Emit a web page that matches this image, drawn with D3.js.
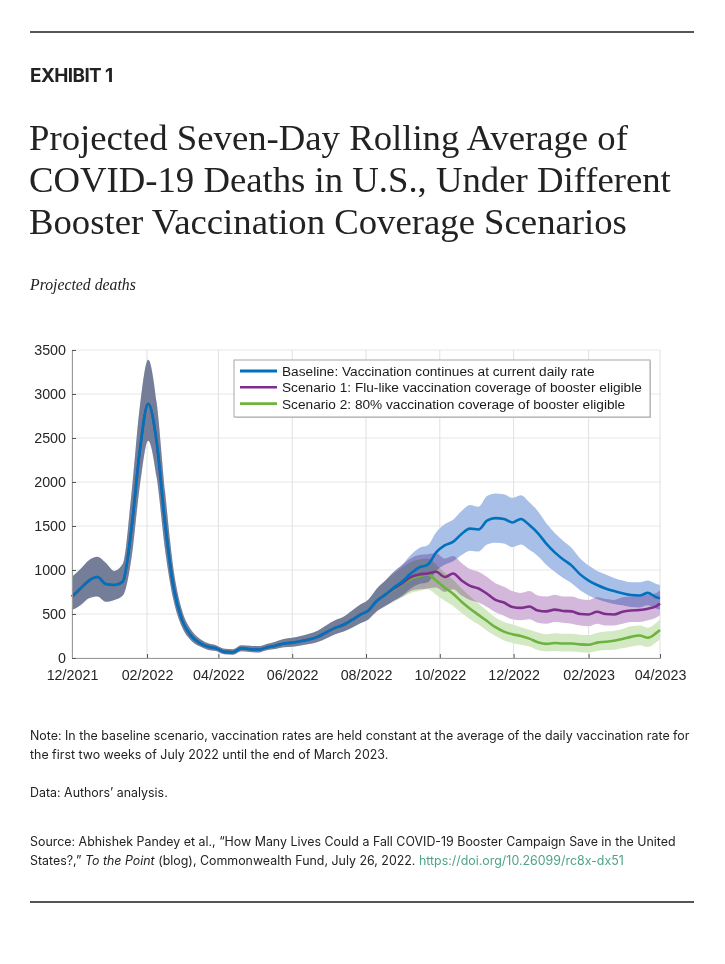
<!DOCTYPE html>
<html>
<head>
<meta charset="utf-8">
<script src="https://cdn.jsdelivr.net/npm/d3@7"></script>
<style>
  body { margin: 0; background: #fff; }
  svg { display: block; }
</style>
</head>
<body>
<svg width="725" height="964"></svg>
<script>
// weekly sample dates
const dates = [
  "2021-12-01", "2021-12-08", "2021-12-15", "2021-12-22", "2021-12-29",
  "2022-01-05", "2022-01-12", "2022-01-19", "2022-01-26",
  "2022-02-02", "2022-02-09", "2022-02-16", "2022-02-23",
  "2022-03-02", "2022-03-09", "2022-03-16", "2022-03-23", "2022-03-30",
  "2022-04-06", "2022-04-13", "2022-04-20", "2022-04-27",
  "2022-05-04", "2022-05-11", "2022-05-18", "2022-05-25",
  "2022-06-01", "2022-06-08", "2022-06-15", "2022-06-22", "2022-06-29",
  "2022-07-06", "2022-07-13", "2022-07-20", "2022-07-27",
  "2022-08-03", "2022-08-10", "2022-08-17",
  // scenarios split from here
  "2022-08-24", "2022-08-31",
  "2022-09-07", "2022-09-14", "2022-09-21", "2022-09-28",
  "2022-10-05", "2022-10-12", "2022-10-19", "2022-10-26",
  "2022-11-02", "2022-11-09", "2022-11-16", "2022-11-23", "2022-11-30",
  "2022-12-07", "2022-12-14", "2022-12-21", "2022-12-28",
  "2023-01-04", "2023-01-11", "2023-01-18", "2023-01-25",
  "2023-02-01", "2023-02-08", "2023-02-15", "2023-02-22",
  "2023-03-01", "2023-03-08", "2023-03-15", "2023-03-22", "2023-03-29",
  "2023-04-01"
];

// common part (all three scenarios identical until mid-August 2022)
const sharedMean = [697, 790, 880, 920, 840, 830, 870, 1450, 2350, 2890, 2450, 1520, 800,
  430, 260, 175, 130, 110, 70, 65, 110, 100, 95, 120, 140, 165, 175, 190, 210, 240, 290,
  340, 375, 430, 490, 540, 650, 720];
const sharedHigh = [924, 1010, 1110, 1150, 1080, 990, 1070, 1850, 2850, 3390, 2900, 1880, 1000,
  540, 330, 225, 170, 145, 105, 100, 145, 140, 135, 160, 185, 215, 230, 250, 275, 310, 370,
  425, 465, 535, 605, 665, 790, 880];
const sharedLow = [545, 600, 680, 700, 640, 660, 710, 1120, 1950, 2470, 2050, 1220, 650,
  350, 205, 135, 95, 80, 42, 38, 78, 68, 62, 88, 102, 122, 128, 142, 158, 182, 222,
  268, 298, 342, 392, 438, 530, 590];

// baseline after the split
const baselineMean = [800, 870, 960, 1030, 1060, 1200, 1280, 1320, 1410, 1470, 1460, 1560,
  1590, 1580, 1540, 1580, 1510, 1420, 1300, 1200, 1120, 1050, 950, 880, 830, 790, 760, 735,
  715, 710, 740, 690, 678];
const baselineHigh = [980, 1060, 1170, 1250, 1280, 1430, 1520, 1570, 1670, 1740, 1720, 1840,
  1870, 1860, 1820, 1850, 1770, 1670, 1530, 1420, 1330, 1250, 1130, 1050, 990, 950, 910, 880,
  860, 860, 880, 840, 830];
const baselineLow = [650, 710, 790, 840, 860, 990, 1060, 1100, 1170, 1220, 1210, 1290,
  1310, 1300, 1260, 1290, 1230, 1160, 1060, 980, 910, 850, 770, 710, 670, 640, 615, 600,
  580, 575, 600, 560, 550];

// scenario 1 (flu-like coverage)
const fluMean = [790, 850, 920, 950, 960, 980, 920, 960, 880, 820, 790, 730, 660, 630, 580,
  570, 585, 540, 530, 550, 535, 530, 500, 495, 525, 500, 495, 525, 540, 545, 560, 590, 620];
const fluHigh = [980, 1060, 1130, 1170, 1180, 1190, 1130, 1160, 1080, 1010, 980, 920, 850,
  810, 760, 740, 760, 710, 700, 720, 700, 700, 670, 660, 690, 670, 660, 690, 700, 710, 720,
  740, 770];
const fluLow = [650, 700, 760, 780, 790, 800, 750, 780, 710, 660, 630, 580, 520, 480, 440,
  430, 440, 400, 390, 410, 400, 390, 370, 360, 390, 370, 370, 390, 410, 410, 430, 460, 490];

// scenario 2 (80% coverage)
const eightyMean = [780, 840, 900, 930, 950, 880, 800, 730, 640, 560, 490, 420, 350, 300, 270,
  250, 220, 180, 160, 170, 165, 165, 155, 150, 175, 185, 195, 215, 240, 255, 230, 285, 318];
const eightyHigh = [960, 1030, 1090, 1120, 1130, 1060, 970, 890, 790, 700, 620, 540, 460, 410,
  380, 350, 320, 290, 270, 280, 275, 275, 265, 260, 285, 300, 310, 330, 360, 370, 345, 400, 440];
const eightyLow = [640, 690, 740, 760, 780, 720, 650, 590, 510, 440, 380, 310, 250, 200, 170,
  150, 130, 90, 75, 80, 75, 75, 65, 60, 80, 90, 95, 110, 130, 145, 125, 180, 210];

// axis ticks
const xTicks = ["2021-12-01", "2022-02-01", "2022-04-01", "2022-06-01", "2022-08-01",
  "2022-10-01", "2022-12-01", "2023-02-01", "2023-04-01"];
const yTicks = [0, 500, 1000, 1500, 2000, 2500, 3000, 3500];

const legendLabels = [
  "Baseline: Vaccination continues at current daily rate",
  "Scenario 1: Flu-like vaccination coverage of booster eligible",
  "Scenario 2: 80% vaccination coverage of booster eligible"
];

const parse = d3.timeParse("%Y-%m-%d");
const sans = "Inter, 'Liberation Sans', sans-serif";
const serif = "'Liberation Serif', 'DejaVu Serif', serif";
const axisFont = "'Liberation Sans', Arial, sans-serif";

// join the common part with each scenario's tail
const toRows = (mean, low, high) =>
  dates.map((d, i) => ({ date: parse(d), mean: mean[i], low: low[i], high: high[i] }));

const series = [
  { name: "baseline", line: "#0072bd", band: "#a8bfe8",
    rows: toRows(sharedMean.concat(baselineMean), sharedLow.concat(baselineLow), sharedHigh.concat(baselineHigh)) },
  { name: "flu", line: "#7e2f8e", band: "#d4b8db",
    rows: toRows(sharedMean.concat(fluMean), sharedLow.concat(fluLow), sharedHigh.concat(fluHigh)) },
  { name: "eighty", line: "#6cb33f", band: "#d3e9c4",
    rows: toRows(sharedMean.concat(eightyMean), sharedLow.concat(eightyLow), sharedHigh.concat(eightyHigh)) }
];

const svg = d3.select("svg");

svg.append("rect").attr("width", 725).attr("height", 964).attr("fill", "#fff");

// font-size helper: stretch a text to a measured width
const fitWidth = (sel, target) => {
  const w = sel.node().getComputedTextLength();
  const fs = parseFloat(sel.attr("font-size"));
  const size = fs * target / w;
  sel.attr("font-size", size);
  return size;
};

// HEADER
svg.append("line")
  .attr("x1", 30).attr("x2", 694).attr("y1", 32).attr("y2", 32)
  .attr("stroke", "#555").attr("stroke-width", 2);

const exhibit = svg.append("text")
  .attr("x", 30).attr("y", 82)
  .attr("font-family", sans).attr("font-weight", 700)
  .attr("font-size", 17).attr("letter-spacing", -0.6)
  .attr("fill", "#222")
  .text("EXHIBIT 1");
fitWidth(exhibit, 82);

const titleLines = [
  "Projected Seven-Day Rolling Average of",
  "COVID-19 Deaths in U.S., Under Different",
  "Booster Vaccination Coverage Scenarios"
];
const title = svg.selectAll("text.title")
  .data(titleLines)
  .enter()
  .append("text")
  .attr("class", "title")
  .attr("x", 29)
  .attr("y", (d, i) => 150 + i * 42)
  .attr("font-family", serif)
  .attr("font-size", 34)
  .attr("fill", "#222")
  .text(d => d);
// size from the widest line
const titleSize = fitWidth(d3.select(title.nodes()[1]), 642);
title.attr("font-size", titleSize);

const sub = svg.append("text")
  .attr("x", 30).attr("y", 290)
  .attr("font-family", serif).attr("font-style", "italic")
  .attr("font-size", 15).attr("fill", "#222")
  .text("Projected deaths");
fitWidth(sub, 106);

// CHART
const x = d3.scaleTime()
  .domain([parse("2021-12-01"), parse("2023-04-01")])
  .range([72, 660]);
const y = d3.scaleLinear().domain([0, 3500]).range([658, 350]);

// grid
svg.append("g")
  .selectAll("line")
  .data(yTicks)
  .enter()
  .append("line")
  .attr("x1", 72).attr("x2", 660)
  .attr("y1", d => y(d)).attr("y2", d => y(d))
  .attr("stroke", "#e6e6e6").attr("stroke-width", 1);
svg.append("g")
  .selectAll("line")
  .data(xTicks)
  .enter()
  .append("line")
  .attr("x1", d => x(parse(d))).attr("x2", d => x(parse(d)))
  .attr("y1", 350).attr("y2", 658)
  .attr("stroke", "#e0e0e0").attr("stroke-width", 1);

// bands (multiply so the shared part darkens like the original)
const area = d3.area()
  .curve(d3.curveMonotoneX)
  .x(d => x(d.date))
  .y0(d => y(d.low))
  .y1(d => y(d.high));

const bands = svg.append("g").style("isolation", "isolate");
bands.selectAll("path")
  .data(series)
  .enter()
  .append("path")
  .attr("d", d => area(d.rows))
  .attr("fill", d => d.band)
  .style("mix-blend-mode", "multiply");

// lines
const line = d3.line()
  .curve(d3.curveMonotoneX)
  .x(d => x(d.date))
  .y(d => y(d.mean));

svg.append("g")
  .selectAll("path")
  .data(series.slice().reverse())
  .enter()
  .append("path")
  .attr("d", d => line(d.rows))
  .attr("fill", "none")
  .attr("stroke", d => d.line)
  .attr("stroke-width", 2.6)
  .attr("stroke-linejoin", "round");

// axes
const xAxis = svg.append("g")
  .attr("transform", "translate(0,658)")
  .call(d3.axisBottom(x)
    .tickValues(xTicks.map(parse))
    .tickFormat(d3.timeFormat("%m/%Y"))
    .tickSize(-4)
    .tickPadding(9));
const yAxis = svg.append("g")
  .attr("transform", "translate(72,0)")
  .call(d3.axisLeft(y)
    .tickValues(yTicks)
    .tickFormat(d3.format("d"))
    .tickSize(-4)
    .tickPadding(6));

[xAxis, yAxis].forEach(a => {
  a.select(".domain").attr("stroke", "#9a9a9a");
  a.selectAll(".tick line").attr("stroke", "#555");
  a.selectAll(".tick text")
    .attr("font-family", axisFont)
    .attr("font-size", 14.3)
    .attr("fill", "#262626");
});
xAxis.selectAll(".tick text").attr("dy", "0.9em");

// legend
const legend = svg.append("g").attr("transform", "translate(234,360)");
legend.append("rect")
  .attr("x", 1).attr("y", 1)
  .attr("width", 416).attr("height", 57)
  .attr("fill", "#ccc");
legend.append("rect")
  .attr("width", 416).attr("height", 57)
  .attr("fill", "#fff")
  .attr("stroke", "#a8a8a8")
  .attr("stroke-width", 1);

const rows = legend.selectAll("g.row")
  .data(series)
  .enter()
  .append("g")
  .attr("class", "row")
  .attr("transform", (d, i) => `translate(0,${11 + i * 16.3})`);
rows.append("line")
  .attr("x1", 6).attr("x2", 43)
  .attr("stroke", d => d.line)
  .attr("stroke-width", d => (d.name === "baseline" ? 3 : 2.6));
const legendText = rows.append("text")
  .attr("x", 48)
  .attr("dy", "0.36em")
  .attr("font-family", axisFont)
  .attr("font-size", 13)
  .attr("fill", "#1a1a1a")
  .text((d, i) => legendLabels[i]);
const legendSize = fitWidth(d3.select(legendText.nodes()[0]), 313);
legendText.attr("font-size", legendSize);

// NOTES
const noteLines = [
  { y: 740, text: "Note: In the baseline scenario, vaccination rates are held constant at the average of the daily vaccination rate for" },
  { y: 759, text: "the first two weeks of July 2022 until the end of March 2023." },
  { y: 797, text: "Data: Authors’ analysis." },
  { y: 846, text: "Source: Abhishek Pandey et al., “How Many Lives Could a Fall COVID-19 Booster Campaign Save in the United" }
];
const notes = svg.selectAll("text.note")
  .data(noteLines)
  .enter()
  .append("text")
  .attr("class", "note")
  .attr("x", 30)
  .attr("y", d => d.y)
  .attr("font-family", sans)
  .attr("font-size", 13)
  .attr("fill", "#222")
  .text(d => d.text);
const noteSize = fitWidth(d3.select(notes.nodes()[0]), 660);
notes.attr("font-size", noteSize);

const last = svg.append("text")
  .attr("x", 30).attr("y", 865)
  .attr("font-family", sans)
  .attr("font-size", noteSize)
  .attr("fill", "#222");
last.append("tspan").text("States?,” ");
last.append("tspan").attr("font-style", "italic").text("To the Point");
last.append("tspan").text(" (blog), Commonwealth Fund, July 26, 2022. ");
last.append("tspan").attr("fill", "#4fa388").text("https://doi.org/10.26099/rc8x-dx51");

svg.append("line")
  .attr("x1", 30).attr("x2", 694).attr("y1", 902).attr("y2", 902)
  .attr("stroke", "#555").attr("stroke-width", 2);
</script>
</body>
</html>
